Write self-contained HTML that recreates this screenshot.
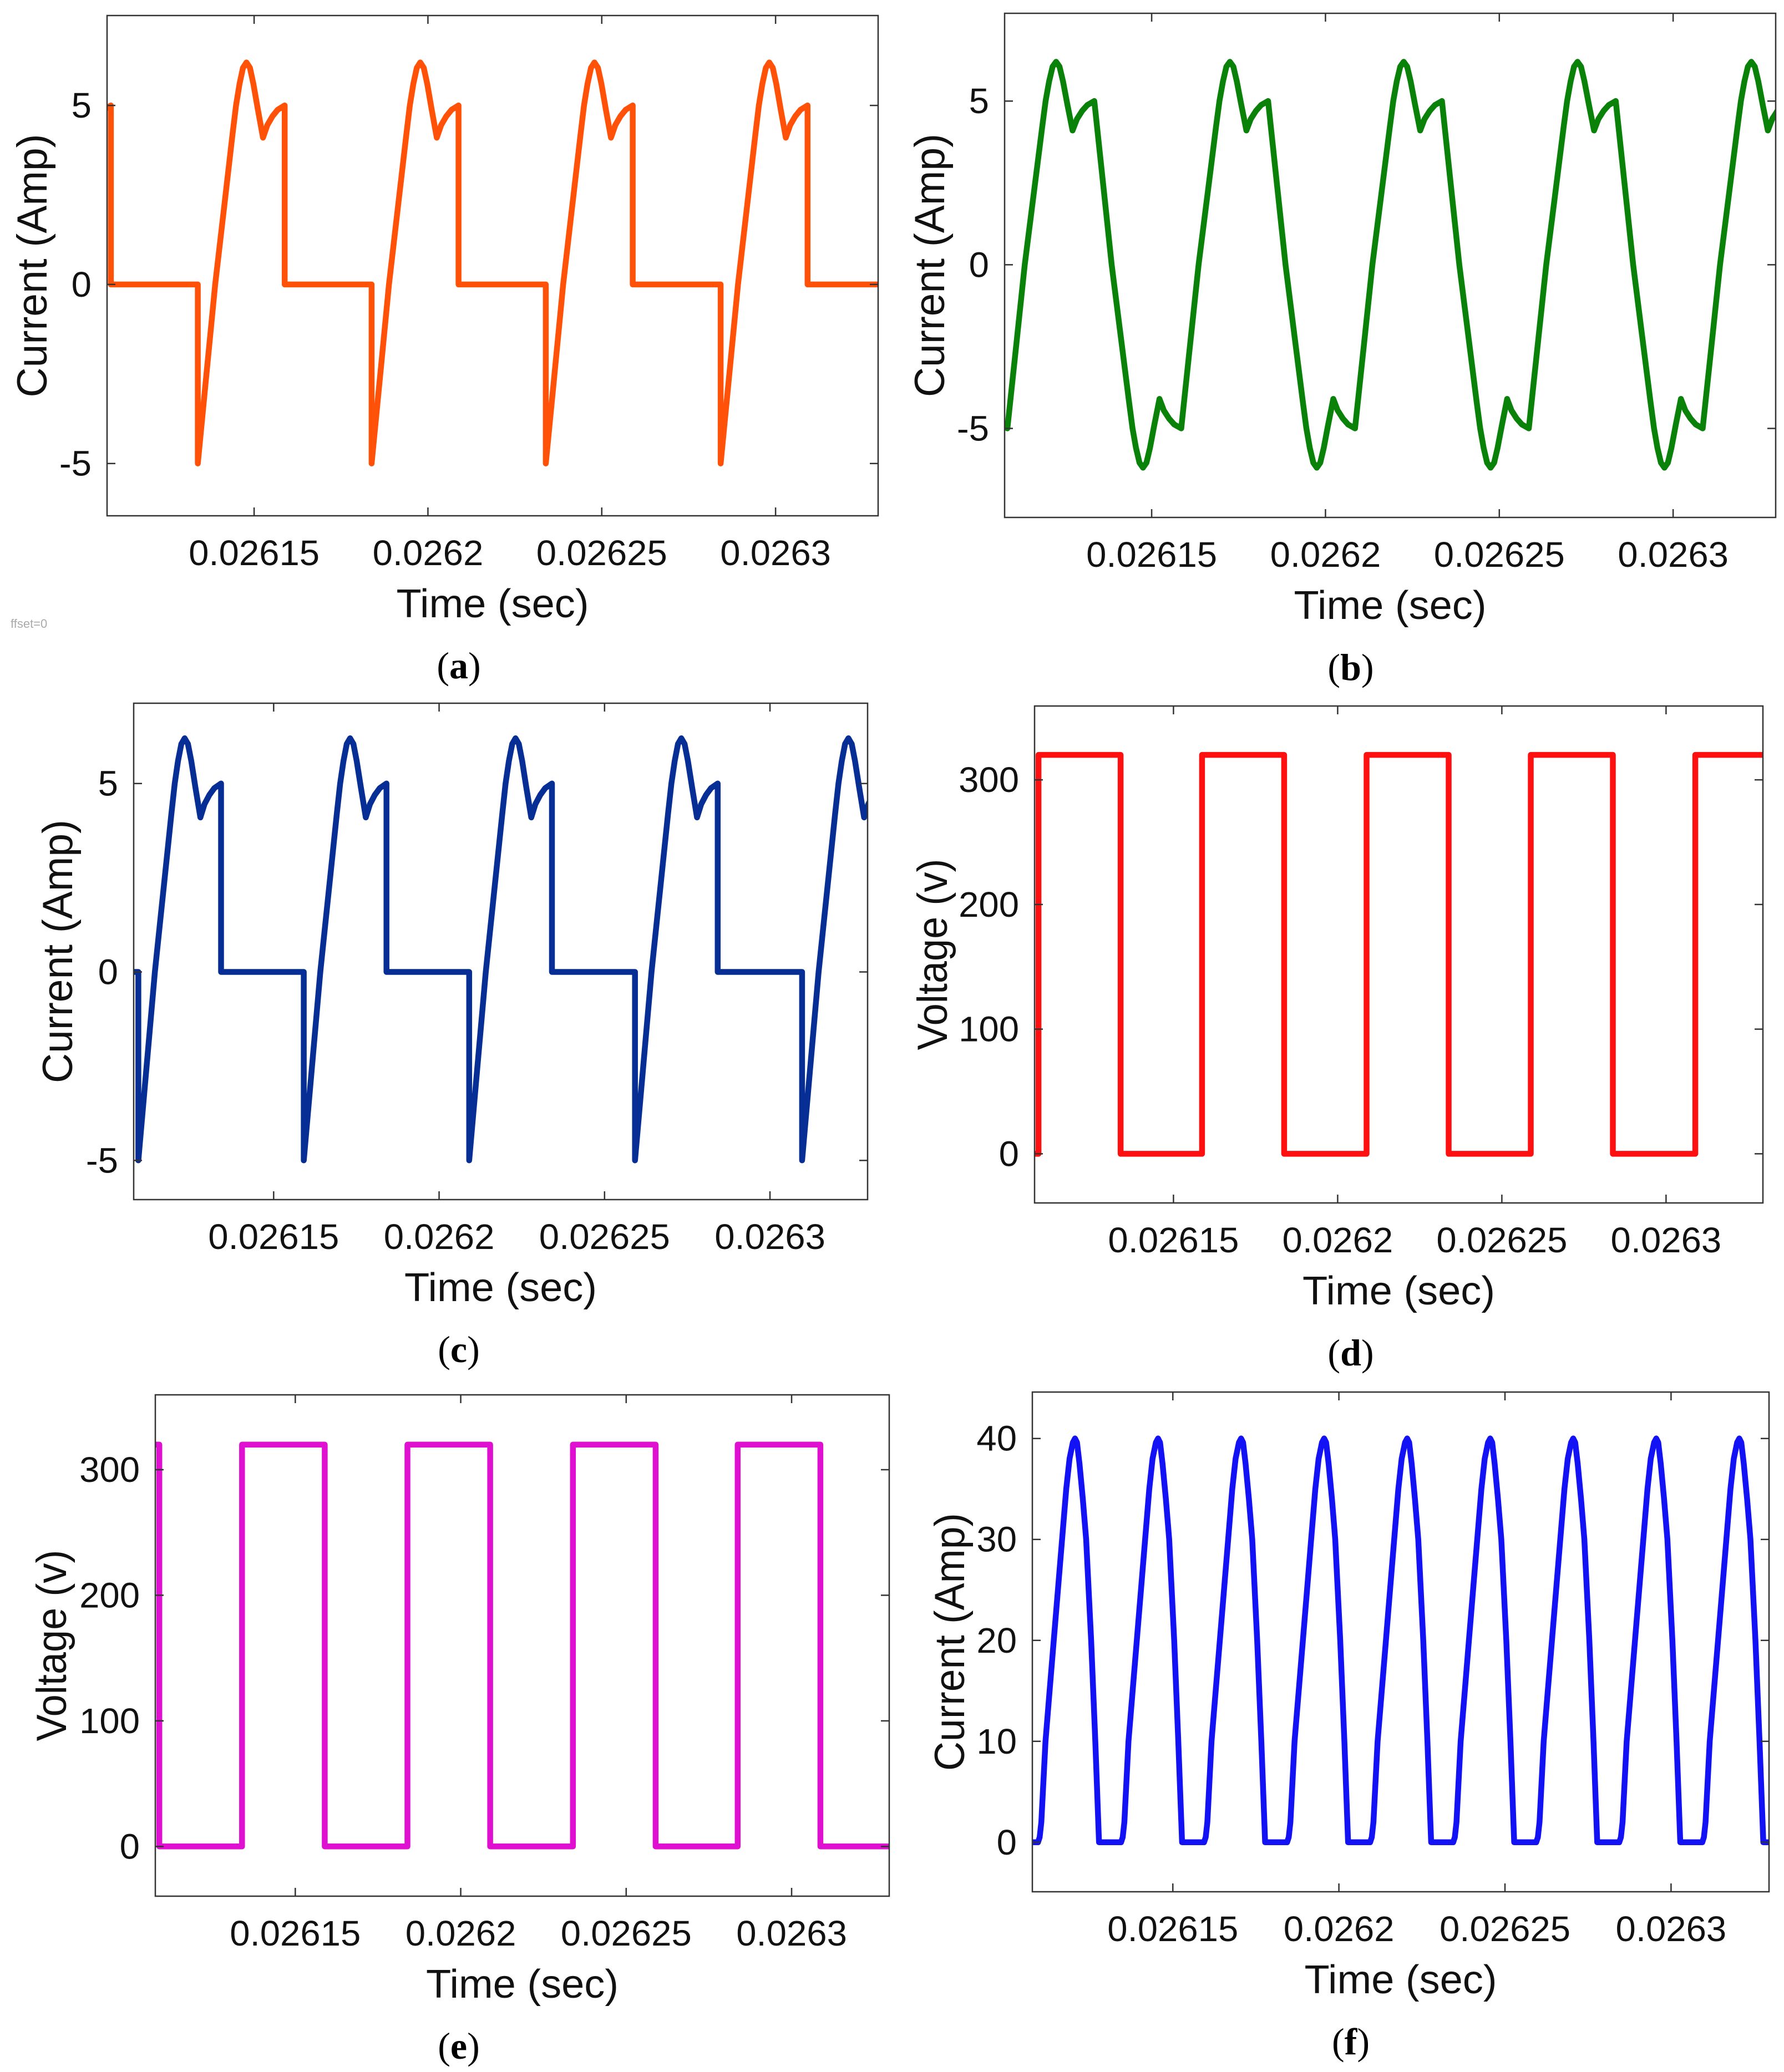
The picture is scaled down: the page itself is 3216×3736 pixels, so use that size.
<!DOCTYPE html>
<html><head><meta charset="utf-8">
<style>
html,body{margin:0;padding:0;background:#fff;overflow:hidden;}
svg{display:block;}
</style></head>
<body>
<svg id="fig" xmlns="http://www.w3.org/2000/svg" width="3216" height="3736" viewBox="0 0 3216 3736">
<rect x="0" y="0" width="3216" height="3736" fill="#fff"/>
<text x="19" y="1132" font-family="Liberation Sans, sans-serif" font-size="22" fill="#aaa">ffset=0</text>
</svg>
<script>
// ---- data ----
const X_LIM = [0.0261077, 0.0263295];
const X_TICKS = [0.02615, 0.0262, 0.02625, 0.0263];
const X_TICK_LABELS = ["0.02615", "0.0262", "0.02625", "0.0263"];
const PERIOD = 0.00005;
// one half-cycle of the inverter current (phase fraction of PERIOD, Amp)
const SHAPE_PHASE = [0, 0.05, 0.1, 0.15, 0.2, 0.22, 0.24, 0.26, 0.28, 0.30, 0.32, 0.345, 0.375, 0.40, 0.43, 0.46, 0.5];
const SHAPE_VAL = [-5, -2.5, 0, 2.1, 4.2, 5.0, 5.6, 6.05, 6.2, 6.05, 5.6, 4.9, 4.1, 4.45, 4.7, 4.88, 5.0];
const A_STARTS = [0.0260838, 0.0261338, 0.0261838, 0.0262339, 0.0262842, 0.0263340];
const B_STARTS = [0.0261085, 0.0261335, 0.0261585, 0.0261835, 0.0262085, 0.0262335, 0.0262585, 0.0262835, 0.0263085];
const B_SIGNS = [1, -1, 1, -1, 1, -1, 1, -1, 1];
const C_STARTS = [0.0261091, 0.0261591, 0.0262091, 0.0262592, 0.0263097];
const D_RISES = [0.0261089, 0.0261587, 0.0262088, 0.0262588, 0.0263089];
const E_RISES = [0.0260839, 0.0261339, 0.0261839, 0.0262339, 0.0262837, 0.0263339];
const SQUARE_HIGH = 320;
// rectified current hump (phase fraction of half period, Amp)
const HUMP_PHASE = [0, 0.02, 0.04, 0.09, 0.14, 0.19, 0.24, 0.29, 0.34, 0.38, 0.42, 0.446, 0.47, 0.5, 0.54, 0.58, 0.64, 0.69, 0.735];
const HUMP_VAL = [0, 0.5, 2, 10, 15, 20, 25, 30, 35, 38, 39.6, 40, 39.6, 37.5, 34, 30, 20, 10, 0];
const F_STARTS = [0.0261094, 0.0261344, 0.0261594, 0.0261844, 0.0262094, 0.0262344, 0.0262594, 0.0262844, 0.0263094];

const NS = "http://www.w3.org/2000/svg";
const fig = document.getElementById("fig");
function mk(tag, attrs, parent) {
  const e = document.createElementNS(NS, tag);
  for (const k in attrs) e.setAttribute(k, attrs[k]);
  (parent || fig).appendChild(e);
  return e;
}
function emW(s) {
  const w = {".":.278,"-":.333};
  let t = 0; for (const c of s) t += (w[c] || .556); return t;
}

function panel(cfg) {
  const g = mk("g", {});
  
  
  const L = cfg.L, T = cfg.T, R = cfg.R, B = cfg.B;
  const sx = t => L + (t - X_LIM[0]) / (X_LIM[1] - X_LIM[0]) * (R - L);
  const sy = v => B - (v - cfg.ylim[0]) / (cfg.ylim[1] - cfg.ylim[0]) * (B - T);
  const clipId = "clip-" + cfg.id;
  const cp = mk("clipPath", {id: clipId}, g);
  mk("rect", {x: L, y: T, width: R - L, height: B - T}, cp);
  const pts = cfg.points();
  let d = "";
  pts.forEach((p, i) => { d += (i ? "L" : "M") + sx(p[0]).toFixed(1) + " " + sy(p[1]).toFixed(1); });
  const path = mk("path", {d: d, fill: "none", stroke: cfg.color, "stroke-width": 10.5, "stroke-linejoin": "round", "stroke-linecap": "round", "clip-path": "url(#" + clipId + ")"}, g);
  
  
  const box = mk("rect", {x: L, y: T, width: R - L, height: B - T, fill: "none", stroke: "#333", "stroke-width": 2.5}, g);
  
  
  X_TICKS.forEach((t, i) => {
    const x = sx(t);
    const tk = mk("path", {d: `M${x} ${B}V${B - 15}M${x} ${T}V${T + 15}`, stroke: "#333", "stroke-width": 2.5}, g);
    
    
    const lab = mk("text", {x: x, y: B + 89, "text-anchor": "middle", "font-family": "Liberation Sans, sans-serif", "font-size": 64, fill: "#111", textLength: (emW(X_TICK_LABELS[i]) * 65.3).toFixed(1), lengthAdjust: "spacingAndGlyphs"}, g);
    lab.textContent = X_TICK_LABELS[i];
    
    
  });
  cfg.yticks.forEach(v => {
    const y = sy(v);
    const tk = mk("path", {d: `M${L} ${y}H${L + 15}M${R} ${y}H${R - 15}`, stroke: "#333", "stroke-width": 2.5}, g);
    
    
    const s = String(v);
    const lab = mk("text", {x: L - 28, y: y + 22, "text-anchor": "end", "font-family": "Liberation Sans, sans-serif", "font-size": 64, fill: "#111", textLength: (emW(s) * 65.3).toFixed(1), lengthAdjust: "spacingAndGlyphs"}, g);
    lab.textContent = s;
    
    
  });
  const xl = mk("text", {x: (L + R) / 2, y: B + 183, "text-anchor": "middle", "font-family": "Liberation Sans, sans-serif", "font-size": 72, fill: "#111", textLength: 347, lengthAdjust: "spacingAndGlyphs"}, g);
  xl.textContent = "Time (sec)";
  
  
  const yc = (T + B) / 2;
  const yl = mk("text", {x: 0, y: 0, "text-anchor": "middle", "font-family": "Liberation Sans, sans-serif", "font-size": 76, fill: "#111", transform: `translate(${cfg.ylx + 27},${yc}) rotate(-90)`, textLength: cfg.ylLen, lengthAdjust: "spacingAndGlyphs"}, g);
  yl.textContent = cfg.ylabel;
  
  
  const pl = mk("text", {x: cfg.plx, y: B + 293, "text-anchor": "middle", "font-family": "Liberation Serif, serif", "font-size": 68, fill: "#000"}, g);
  pl.innerHTML = '(<tspan font-weight="bold">' + cfg.id + '</tspan>)';
  
  
}

function pulsePoints(starts) {
  const p = [[X_LIM[0] - PERIOD, 0]];
  starts.forEach(t0 => {
    p.push([t0, 0]);
    SHAPE_PHASE.forEach((ph, i) => p.push([t0 + ph * PERIOD, SHAPE_VAL[i]]));
    p.push([t0 + 0.5 * PERIOD, 0]);
  });
  p.push([X_LIM[1] + PERIOD, 0]);
  return p;
}

panel({id: "a", L: 193, T: 28, R: 1583, B: 930, ylim: [-6.46, 7.51], yticks: [-5, 0, 5], color: "#FF5208",
  ylabel: "Current (Amp)", ylx: 57, ylLen: 475, plx: 827, points: () => pulsePoints(A_STARTS)});

panel({id: "b", L: 1811, T: 24, R: 3201, B: 933, ylim: [-7.72, 7.68], yticks: [-5, 0, 5], color: "#0A820A",
  ylabel: "Current (Amp)", ylx: 1675, ylLen: 475, plx: 2435, points: () => {
    const p = [];
    B_STARTS.forEach((t0, k) => {
      SHAPE_PHASE.forEach((ph, i) => p.push([t0 + ph * PERIOD, B_SIGNS[k] * SHAPE_VAL[i]]));
    });
    return p;
  }});

panel({id: "c", L: 241, T: 1268, R: 1564, B: 2163, ylim: [-6.04, 7.13], yticks: [-5, 0, 5], color: "#062E94",
  ylabel: "Current (Amp)", ylx: 103, ylLen: 475, plx: 827, points: () => pulsePoints(C_STARTS)});

function squarePoints(rises) {
  const p = [[X_LIM[0] - PERIOD, 0]];
  rises.forEach(r => {
    p.push([r, 0]); p.push([r, SQUARE_HIGH]);
    p.push([r + 0.5 * PERIOD, SQUARE_HIGH]); p.push([r + 0.5 * PERIOD, 0]);
  });
  p.push([X_LIM[1] + PERIOD, 0]);
  return p;
}

panel({id: "d", L: 1865, T: 1273, R: 3178, B: 2169, ylim: [-39.4, 359.2], yticks: [0, 100, 200, 300], color: "#FF1010",
  ylabel: "Voltage (v)", ylx: 1680, ylLen: 345, plx: 2435, points: () => squarePoints(D_RISES)});

panel({id: "e", L: 280, T: 2515, R: 1603, B: 3419, ylim: [-39.6, 359.6], yticks: [0, 100, 200, 300], color: "#E010D0",
  ylabel: "Voltage (v)", ylx: 92, ylLen: 345, plx: 827, points: () => squarePoints(E_RISES)});

panel({id: "f", L: 1861, T: 2510, R: 3189, B: 3411, ylim: [-4.9, 44.6], yticks: [0, 10, 20, 30, 40], color: "#1212F5",
  ylabel: "Current (Amp)", ylx: 1711, ylLen: 465, plx: 2435, points: () => {
    const p = [[X_LIM[0] - PERIOD, 0]];
    F_STARTS.forEach(t0 => {
      HUMP_PHASE.forEach((ph, i) => p.push([t0 + ph * PERIOD / 2, HUMP_VAL[i]]));
    });
    p.push([X_LIM[1] + PERIOD, 0]);
    return p;
  }});
</script>
</body></html>
